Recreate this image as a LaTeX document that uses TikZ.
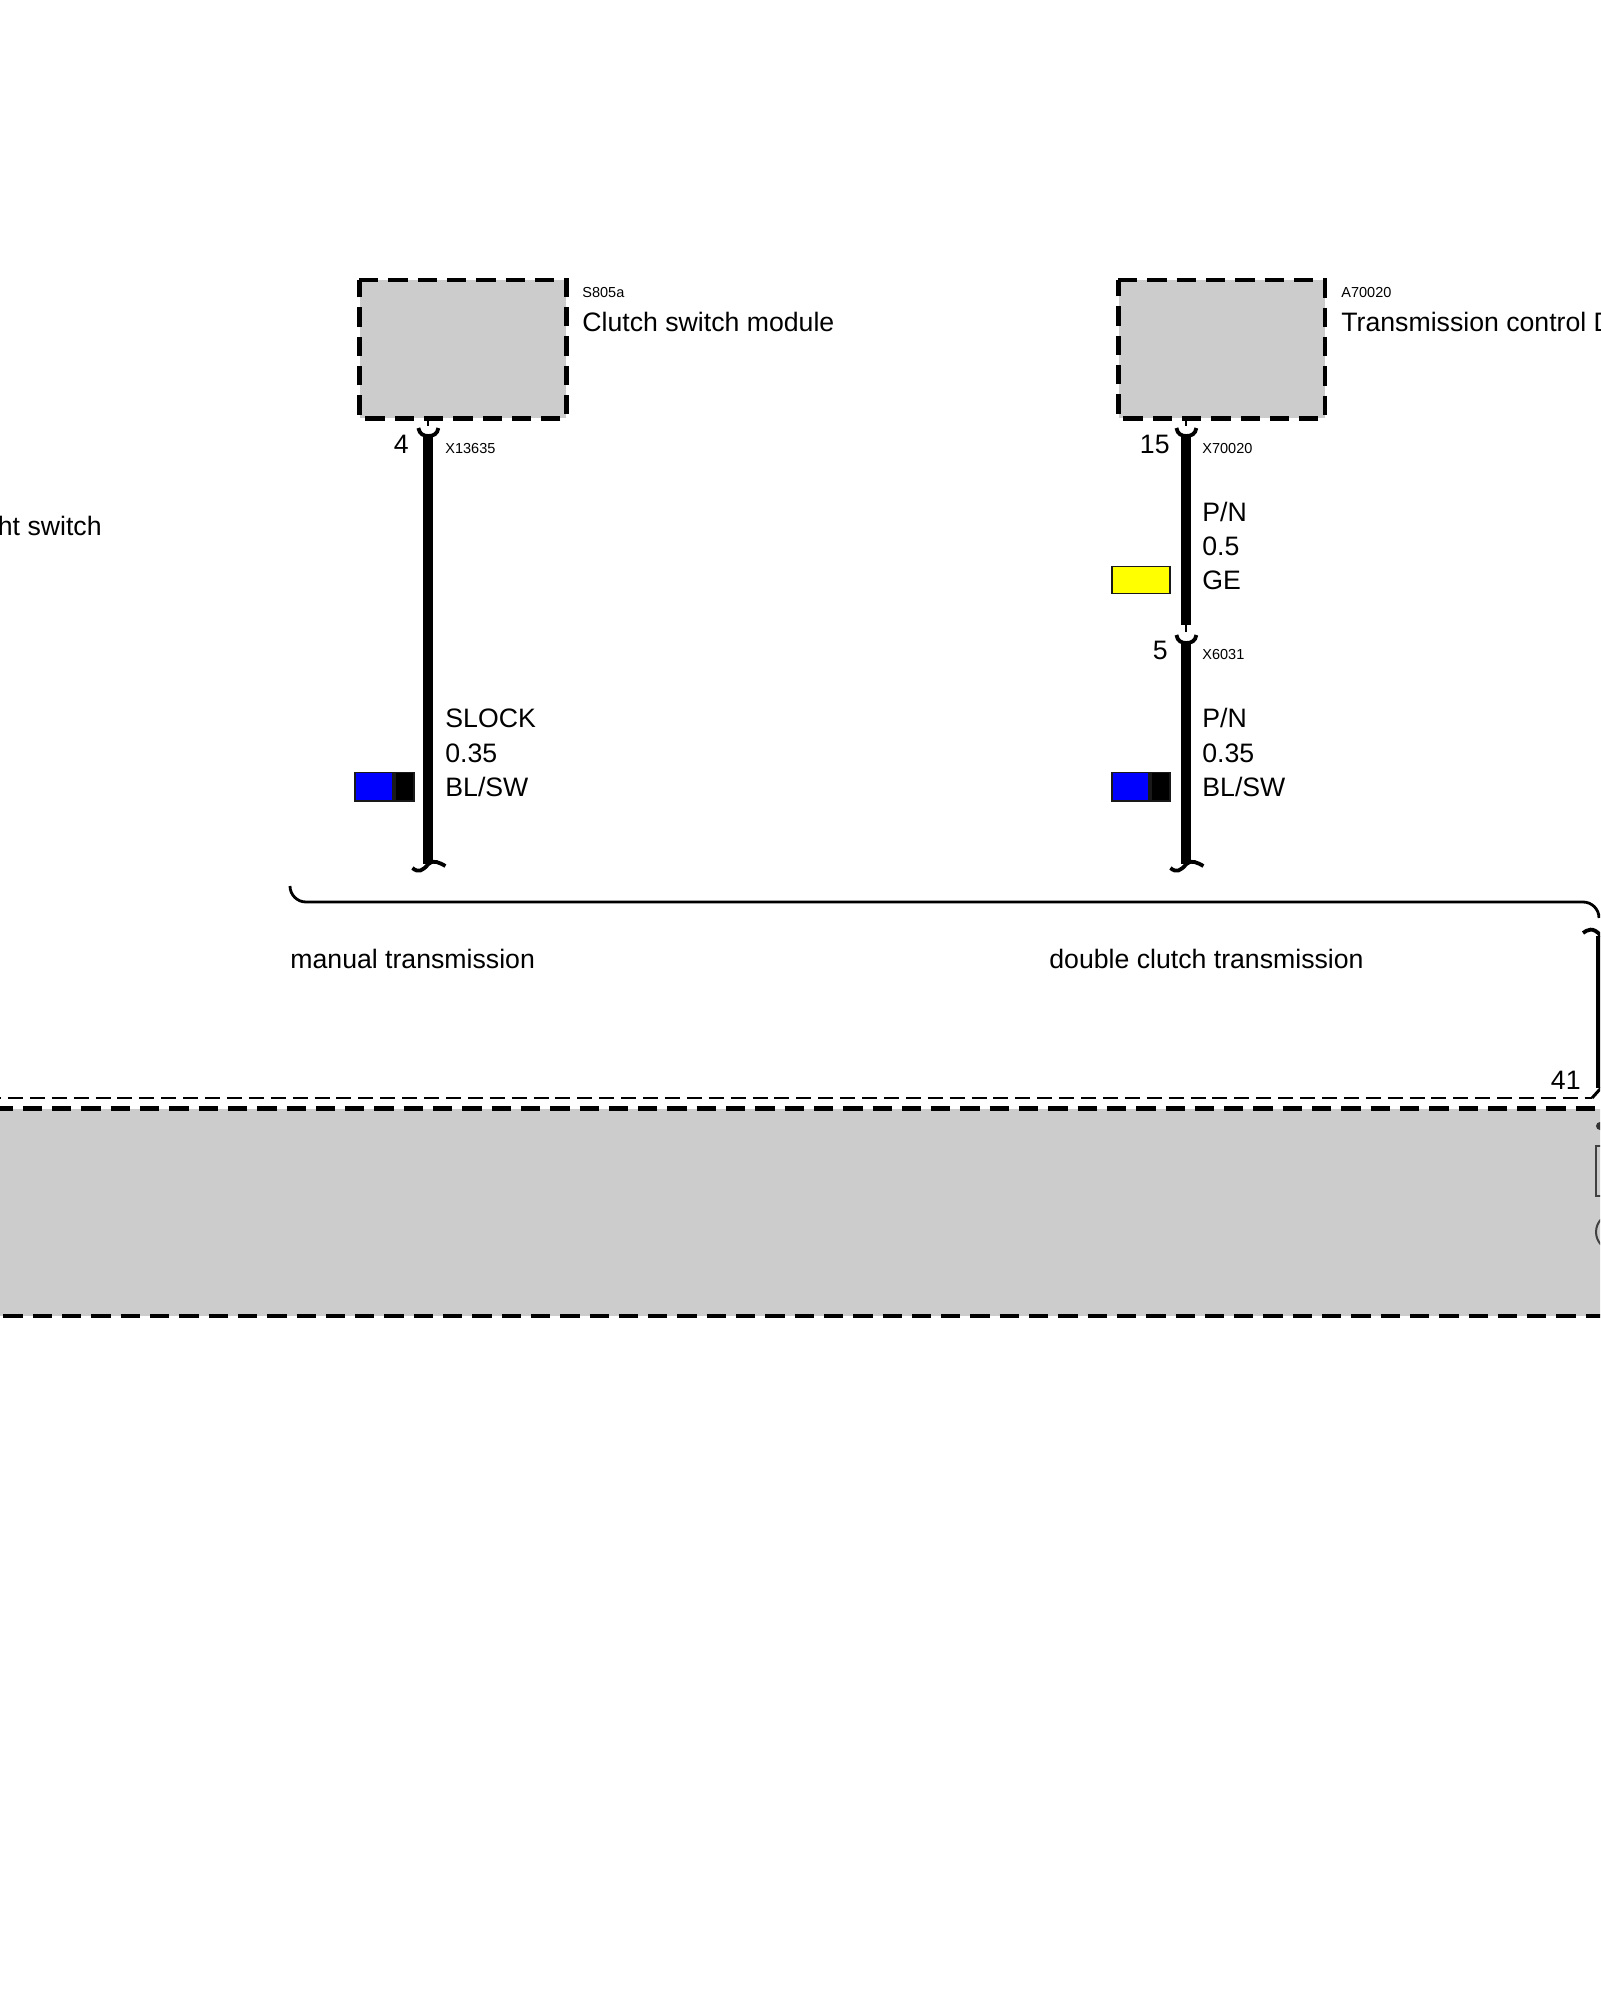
\documentclass[tikz,border=0pt]{standalone}
\usepackage{fontspec}
\setmainfont{Liberation Sans}
\usetikzlibrary{calc}

\definecolor{chipyellow}{RGB}{255,255,0}
\definecolor{chipblue}{RGB}{0,0,255}

\tikzset{
	labeltext/.style={font=\fontsize{13.33}{17.2}\selectfont, inner sep=0pt, anchor=west, align=left},
	smalltext/.style={font=\fontsize{7.25}{9}\selectfont, inner sep=0pt, anchor=west},
	pintext/.style={font=\fontsize{13.33}{16}\selectfont, inner sep=0pt, anchor=east},
	module/.style={fill=black!20, inner sep=0pt},
	dashbox/.style={line width=2.4pt, dash pattern=on 9.65pt off 5pt},
	wire/.style={line width=5pt},
	stub/.style={line width=1pt},
	fork/.style={line width=1.9pt},
	chip/.style={draw=black!90, line width=0.85pt, inner sep=0pt},
	part/.style={draw=black!75, line width=1pt, inner sep=0pt},
}

\begin{document}
\begin{tikzpicture}[x=0.5pt, y=-0.5pt]
	\def\xa{428.4};
	\def\xb{1186.4};
	\def\xc{1601};
	
	\useasboundingbox (0,0) rectangle (1600,2000);
	\clip (0,0) rectangle (1600,2000);
	
	\node[module, minimum width=103.25pt, minimum height=68.75pt] (clutch) at (462.75,349.25) {};
	\node[module, minimum width=103pt, minimum height=68.75pt] (tcu) at (1221.5,349.25) {};
	\draw[dashbox] (clutch.north west) -- (clutch.north east) -- (clutch.south east) -- (clutch.south west) -- cycle;
	\draw[dashbox] (tcu.north west) -- (tcu.north east) -- (tcu.south east) -- (tcu.south west) -- cycle;
	
	\node[smalltext] (clutchcode) at (582,293) {S805a};
	\node[labeltext] (clutchname) at (582,322) {Clutch switch module};
	\node[smalltext] (tcucode) at (1341,293) {A70020};
	\node[labeltext] (tcuname) at (1341,322) {Transmission control D};
	\node[labeltext] (lightname) at (-2.5,526) {ht switch};
	
	\coordinate (forka) at (\xa,436);
	\coordinate (enda) at (\xa,864);
	\coordinate (forkb) at (\xb,436);
	\coordinate (endb) at (\xb,625);
	\coordinate (forkc) at (\xb,643);
	\coordinate (endc) at (\xb,864);
	
	\draw[wire] (forka) -- (enda);
	\draw[wire] (forkb) -- (endb);
	\draw[wire] (forkc) -- (endc);
	
	\draw[stub] (clutch.south -| forka) -- ++(0,8);
	\draw[stub] (tcu.south -| forkb) -- ++(0,8);
	\draw[stub] (endb) -- ++(0,7);
	
	\draw[fork] ($(forka)+(-10,-8)$) .. controls +(1,6) and +(-5,0) .. (forka) .. controls +(5,0) and +(-1,6) .. ($(forka)+(10,-8)$);
	\draw[fork] ($(forkb)+(-10,-8)$) .. controls +(1,6) and +(-5,0) .. (forkb) .. controls +(5,0) and +(-1,6) .. ($(forkb)+(10,-8)$);
	\draw[fork] ($(forkc)+(-10,-8)$) .. controls +(1,6) and +(-5,0) .. (forkc) .. controls +(5,0) and +(-1,6) .. ($(forkc)+(10,-8)$);
	
	\draw[fork] ($(enda)+(-16,4)$) .. controls +(6,5) and +(-6,7) .. (enda) .. controls +(4,-5) and +(-5,-3) .. ($(enda)+(17,2)$);
	\draw[fork] ($(endc)+(-16,4)$) .. controls +(6,5) and +(-6,7) .. (endc) .. controls +(4,-5) and +(-5,-3) .. ($(endc)+(17,2)$);
	
	\node[pintext] (pina) at (409,444) {4};
	\node[smalltext] (conna) at (445,449) {X13635};
	\node[pintext] (pinb) at (1170,444) {15};
	\node[smalltext] (connb) at (1202,449) {X70020};
	\node[pintext] (pinc) at (1168,650) {5};
	\node[smalltext] (connc) at (1202,655) {X6031};
	
	\node[labeltext] (wirea) at (445,753) {SLOCK\\0.35\\BL/SW};
	\node[labeltext] (wireb) at (1202,546) {P/N\\0.5\\GE};
	\node[labeltext] (wirec) at (1202,752.5) {P/N\\0.35\\BL/SW};
	
	\node[chip, fill=chipblue, minimum width=19.15pt, minimum height=14.15pt] (chipa) at (373.9,786.5) {};
	\node[chip, fill=black, minimum width=9.7pt, minimum height=14.15pt, anchor=west] (chipab) at (chipa.east) {};
	\node[chip, fill=chipyellow, minimum width=29.3pt, minimum height=13.5pt] (chipb) at (1141,580) {};
	\node[chip, fill=chipblue, minimum width=18.65pt, minimum height=14.15pt] (chipc) at (1130.35,786.5) {};
	\node[chip, fill=black, minimum width=9.75pt, minimum height=14.15pt, anchor=west] (chipcb) at (chipc.east) {};
	
	\node[labeltext] (manual) at (290,959) {manual transmission};
	\node[labeltext] (double) at (1049,959) {double clutch transmission};
	
	\coordinate (bracea) at (290,886);
	\coordinate (bracec) at (1599,902);
	\coordinate (braceb) at (1599,918);
	\draw[line width=1.4pt, rounded corners=8pt] (bracea) |- (bracec) -- (braceb);
	
	\node[module, minimum width=900pt, minimum height=103.5pt] (ecu) at (806,1212) {};
	\draw[dashbox] (ecu.north west) -- (ecu.north east);
	\draw[dashbox, dash phase=9.65pt] (ecu.south west) -- (ecu.south east);
	
	\node[circle, fill=black!80, inner sep=0pt, minimum size=4pt] (dot) at (1600,1126) {};
	\node[part, anchor=north west, minimum width=30pt, minimum height=25pt] (bus) at (1595,1145) {};
	\node[part, circle, minimum size=18.5pt] (gauge) at (1614.5,1232) {};
	
	\coordinate (hookc) at (\xc,936);
	\coordinate (endd) at (\xc,1088);
	\coordinate (dashend) at (1592,1098);
	\coordinate (dashstart) at (0,1098);
	\draw[wire] (hookc) -- (endd);
	\draw[fork] (1583,933) .. controls +(4,-3) and +(-8,-10) .. (hookc);
	\draw[stub, line width=1.5pt] (dashend) -- (endd);
	\draw[stub, line width=1.25pt, dash pattern=on 7.5pt off 3.45pt, dash phase=7pt] (dashstart) -- (dashend);
	
	\node[pintext] (pind) at (1581,1080) {41};
\end{tikzpicture}
\end{document}
